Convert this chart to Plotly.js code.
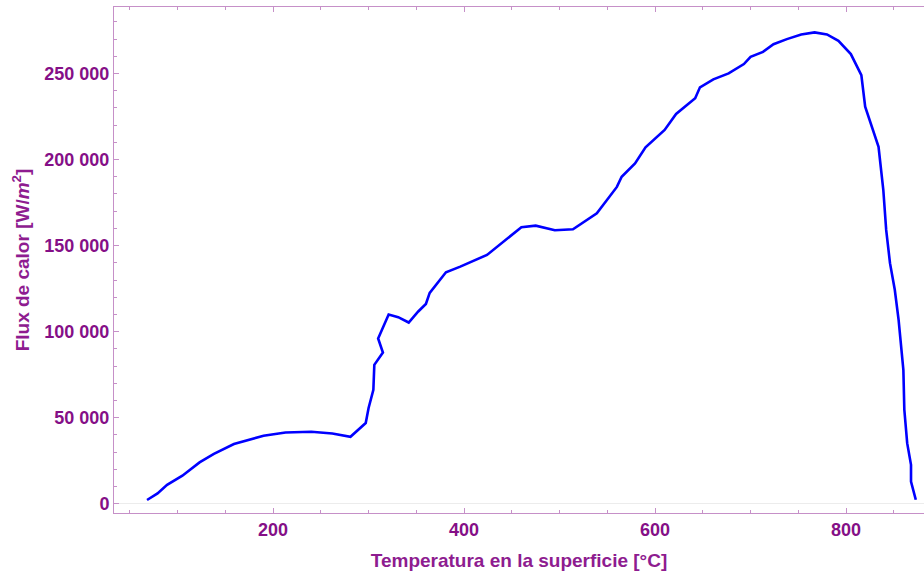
<!DOCTYPE html>
<html>
<head>
<meta charset="utf-8">
<script src="https://cdn.plot.ly/plotly-3.0.1.min.js"></script>
<style>
  html, body { margin: 0; padding: 0; background: #ffffff; }
  #chart { width: 924px; height: 571px; }
</style>
</head>
<body>
<div id="chart"></div>
<script>
// Surface temperature (°C) and heat flux (W/m²) along the boiling curve
const temperatura = [
  68, 79, 89, 105, 123, 138, 159, 190, 213, 240, 262, 281,
  297, 300, 305, 306, 315, 310, 321, 331, 342, 352, 360, 364,
  381, 396, 424, 434, 460, 475, 495, 514, 539, 560, 565, 579,
  590, 610, 622, 642, 647, 661, 677, 693, 700, 713, 724, 738,
  753, 767, 780, 792, 805, 816, 820, 834, 839, 842, 846, 851,
  855, 860, 861, 864, 868, 868, 873
];
const flujo = [
  2150, 6000, 11000, 16300, 24000, 29000, 34700, 39500, 41400, 41800, 40800, 38900,
  46900, 55600, 66200, 80700, 87900, 96000, 109900, 108400, 105300, 111700, 116100, 122500,
  134500, 137800, 144600, 149100, 160700, 161600, 158900, 159500, 168800, 184100, 190000, 197800,
  207100, 217200, 226500, 235600, 242000, 246600, 250100, 255500, 259700, 262600, 267000, 270000,
  272700, 273900, 272700, 269000, 261300, 249100, 230700, 207400, 182300, 159100, 139800, 124300,
  106800, 77800, 54600, 35200, 22600, 12900, 2300
];
const xTicks = [200, 400, 600, 800];
const yTicks = [0, 50000, 100000, 150000, 200000, 250000];

const frameColor = '#c690c8';
const labelColor = '#850f87';
const titleColor = '#8e1c90';
const fontFamily = 'Liberation Sans, Arial, sans-serif';

const trace = {
  x: temperatura,
  y: flujo,
  type: 'scatter',
  mode: 'lines',
  line: { color: '#0000ff', width: 2.6 },
  hoverinfo: 'skip'
};

const layout = {
  width: 924,
  height: 571,
  margin: { l: 114, r: 0, t: 7, b: 58 },
  paper_bgcolor: '#ffffff',
  plot_bgcolor: '#ffffff',
  showlegend: false,
  separators: '. ',
  font: { family: fontFamily, color: labelColor },
  xaxis: {
    range: [33.4, 881.6],
    tickvals: xTicks,
    ticks: 'inside',
    ticklen: 5,
    tickwidth: 1,
    tickcolor: frameColor,
    minor: { dtick: 50, ticks: 'inside', ticklen: 3, tickcolor: frameColor },
    showline: true,
    linecolor: frameColor,
    linewidth: 1,
    mirror: 'ticks',
    showgrid: false,
    zeroline: false,
    tickfont: { size: 18, color: labelColor, family: fontFamily, weight: 'bold' },
    title: {
      text: '<b>Temperatura en la superficie [°C]</b>',
      font: { size: 19, color: titleColor, family: fontFamily },
      standoff: 15
    },
    automargin: false
  },
  yaxis: {
    range: [-5400, 288660],
    tickvals: yTicks,
    tickformat: ',d',
    ticks: 'inside',
    ticklen: 5,
    tickwidth: 1,
    tickcolor: frameColor,
    minor: { dtick: 10000, ticks: 'inside', ticklen: 3, tickcolor: frameColor },
    showline: true,
    linecolor: frameColor,
    linewidth: 1,
    showgrid: false,
    zeroline: true,
    zerolinecolor: '#ececec',
    zerolinewidth: 1.5,
    tickfont: { size: 18, color: labelColor, family: fontFamily, weight: 'bold' },
    title: {
      text: '<b>Flux de calor [W/<i>m</i><sup>2</sup>]</b>',
      font: { size: 19, color: titleColor, family: fontFamily },
      standoff: 9
    },
    automargin: false
  }
};

Plotly.newPlot('chart', [trace], layout, { staticPlot: true, displayModeBar: false });
</script>
</body>
</html>
